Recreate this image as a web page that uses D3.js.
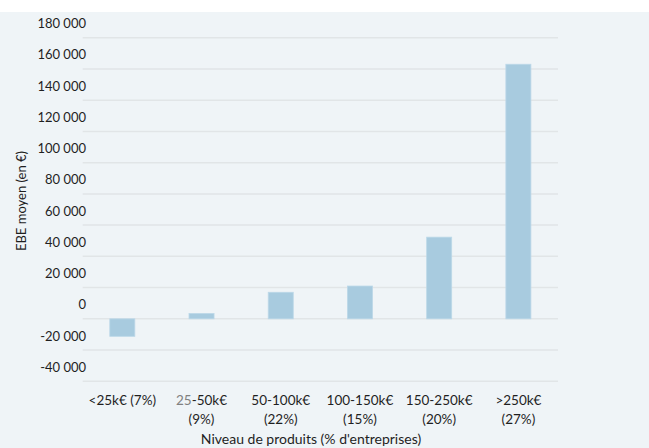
<!DOCTYPE html>
<html><head><meta charset="utf-8">
<script src="https://cdn.jsdelivr.net/npm/d3@7"></script>
<style>
html,body{margin:0;padding:0;background:#fff;}
svg{display:block;font-family:Lato,"Open Sans",sans-serif;}
</style></head>
<body><svg id="c" width="649" height="448"></svg>
<script>
const categories = ["<25k€ (7%)", "25-50k€ (9%)", "50-100k€ (22%)", "100-150k€ (15%)", "150-250k€ (20%)", ">250k€ (27%)"];
const categoryLines = [["<25k€ (7%)"], ["25-50k€", "(9%)"], ["50-100k€", "(22%)"], ["100-150k€", "(15%)"], ["150-250k€", "(20%)"], [">250k€", "(27%)"]];
const values = [-11200, 3400, 17000, 21000, 52300, 163000];
const yTicks = [-40000, -20000, 0, 20000, 40000, 60000, 80000, 100000, 120000, 140000, 160000, 180000];
const yTitle = "EBE moyen (en €)";
const xTitle = "Niveau de produits (% d'entreprises)";

const svg = d3.select("#c");
svg.append("rect").attr("x",0).attr("y",12).attr("width",649).attr("height",436).attr("fill","#eff4f7");

const x = d3.scaleBand().domain(categories).range([82.7, 558]).paddingInner(0.684).paddingOuter(0.342);
const y = d3.scaleLinear().domain([-40000, 180000]).range([381.3, 37.7]);

const fmt = v => {
  const s = d3.format(",")(Math.abs(v)).replace(/,/g, " ");
  return (v < 0 ? "-" : "") + s;
};

// gridlines
svg.append("g").selectAll("line").data(yTicks).join("line")
  .attr("x1", 82.7).attr("x2", 558)
  .attr("y1", d => y(d)).attr("y2", d => y(d))
  .attr("stroke", "#e1e5e7").attr("stroke-width", 1.5);

// y labels (drawn above their gridline, as in the original)
svg.append("g").selectAll("text").data(yTicks).join("text")
  .attr("x", 86).attr("y", d => y(d) - 14)
  .attr("dy", "0.35em")
  .attr("text-anchor", "end")
  .attr("font-size", 13).attr("fill", "#1f1f1f")
  .text(fmt);

// bars
svg.append("g").selectAll("rect").data(values).join("rect")
  .attr("x", (d, i) => x(categories[i]))
  .attr("width", x.bandwidth())
  .attr("y", d => y(Math.max(0, d)))
  .attr("height", d => Math.abs(y(d) - y(0)))
  .attr("fill", "#a8cbdf").attr("stroke", "#bcd8e8").attr("stroke-width", 0.8);

// x labels
const xl = svg.append("g").selectAll("text").data(categoryLines).join("text")
  .attr("text-anchor", "middle").attr("font-size", 13.5).attr("fill", "#1f1f1f")
  .attr("transform", (d, i) => `translate(${x(categories[i]) + x.bandwidth() / 2},0)`);
xl.each(function(lines, i) {
  const t = d3.select(this);
  lines.forEach((l, j) => {
    const ts = t.append("tspan").attr("x", 0).attr("y", 405 + j * 18.5);
    if (i === 1 && j === 0) {
      ts.append("tspan").attr("fill", "#808080").text(l.slice(0, 2));
      ts.append("tspan").text(l.slice(2));
    } else {
      ts.text(l);
    }
  });
});

// axis titles
svg.append("text").attr("transform", "translate(26,201) rotate(-90)")
  .attr("text-anchor", "middle").attr("font-size", 13).attr("fill", "#1f1f1f").text(yTitle);
svg.append("text").attr("x", 311).attr("y", 444)
  .attr("text-anchor", "middle").attr("font-size", 14).attr("fill", "#1f1f1f").text(xTitle);
</script></body></html>
